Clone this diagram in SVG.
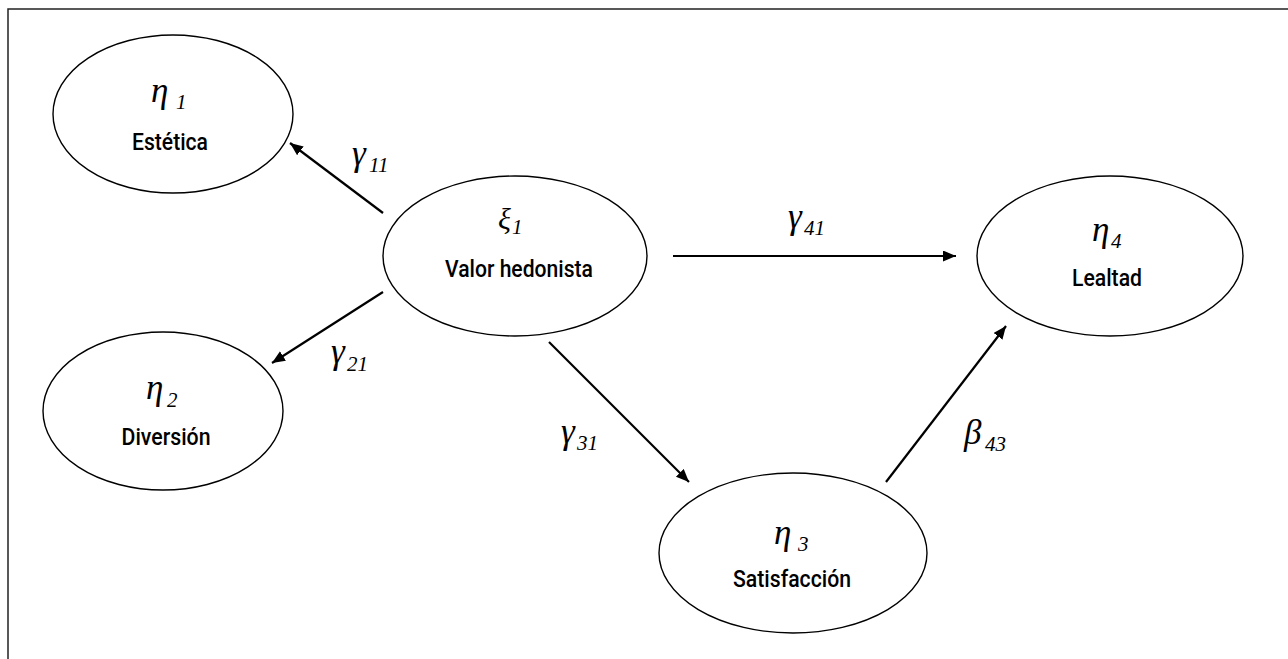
<svg xmlns="http://www.w3.org/2000/svg" width="1288" height="659" viewBox="0 0 1288 659">
<style>
.node ellipse{fill:#fff;stroke:#000;stroke-width:1.4}
.lbl{font-family:Roboto,"Liberation Sans",sans-serif;font-weight:500;font-size:23.5px;fill:#000;text-anchor:middle}
.gk{font-family:"Liberation Serif","DejaVu Serif",serif;font-style:italic;fill:#000}
.g{font-size:35px}
.s{font-size:21px}
.conn line{stroke:#000;stroke-width:2.2}
.frame{stroke:#222;stroke-width:1.5;fill:none}
</style>
<defs>
<marker id="ah" markerUnits="userSpaceOnUse" markerWidth="14" markerHeight="12" refX="13" refY="5.5" orient="auto">
<path d="M0,0 L13,5.5 L0,11 z" fill="#000"/>
</marker>
</defs>
<rect width="1288" height="659" fill="#fff"/>
<path class="frame" d="M8,659 V9 H1288"/>
<g id="connectors" class="conn">
<line x1="383" y1="213" x2="290" y2="143" marker-end="url(#ah)"/>
<line x1="383" y1="292" x2="272" y2="363" marker-end="url(#ah)"/>
<line x1="673" y1="256" x2="956" y2="256" marker-end="url(#ah)"/>
<line x1="549" y1="342" x2="689" y2="482" marker-end="url(#ah)"/>
<line x1="886" y1="482" x2="1006" y2="326" marker-end="url(#ah)"/>
</g>
<g id="edge-labels">
<text class="gk"><tspan class="g" x="352" y="165">γ</tspan><tspan class="s" x="369" y="172">11</tspan></text>
<text class="gk"><tspan class="g" x="331" y="363">γ</tspan><tspan class="s" x="347" y="371">21</tspan></text>
<text class="gk"><tspan class="g" x="788" y="228">γ</tspan><tspan class="s" x="804" y="235">41</tspan></text>
<text class="gk"><tspan class="g" x="561" y="443">γ</tspan><tspan class="s" x="577" y="450">31</tspan></text>
<text class="gk"><tspan class="g" x="964" y="444">β</tspan><tspan class="s" x="985" y="451">43</tspan></text>
</g>
<g id="eta1" class="node">
<ellipse cx="173" cy="114" rx="120" ry="79"/>
<text class="gk"><tspan class="g" x="151" y="102">η</tspan><tspan class="s" x="176" y="109">1</tspan></text>
<text class="lbl" x="170" y="150" textLength="76" lengthAdjust="spacingAndGlyphs">Estética</text>
</g>
<g id="xi1" class="node">
<ellipse cx="515" cy="256" rx="132" ry="80"/>
<text class="gk"><tspan font-size="30px" x="498" y="229">ξ</tspan><tspan class="s" x="512" y="234">1</tspan></text>
<text class="lbl" x="519" y="277" textLength="148" lengthAdjust="spacingAndGlyphs">Valor hedonista</text>
</g>
<g id="eta2" class="node">
<ellipse cx="163" cy="411" rx="120" ry="79"/>
<text class="gk"><tspan class="g" x="146" y="399">η</tspan><tspan class="s" x="167" y="407">2</tspan></text>
<text class="lbl" x="166" y="445" textLength="89" lengthAdjust="spacingAndGlyphs">Diversión</text>
</g>
<g id="eta3" class="node">
<ellipse cx="793" cy="553" rx="134" ry="80"/>
<text class="gk"><tspan class="g" x="774" y="544">η</tspan><tspan class="s" x="798" y="551">3</tspan></text>
<text class="lbl" x="792" y="587" textLength="118" lengthAdjust="spacingAndGlyphs">Satisfacción</text>
</g>
<g id="eta4" class="node">
<ellipse cx="1110" cy="256" rx="133" ry="80"/>
<text class="gk"><tspan class="g" x="1092" y="241">η</tspan><tspan class="s" x="1111" y="248">4</tspan></text>
<text class="lbl" x="1107" y="286" textLength="70" lengthAdjust="spacingAndGlyphs">Lealtad</text>
</g>
</svg>
